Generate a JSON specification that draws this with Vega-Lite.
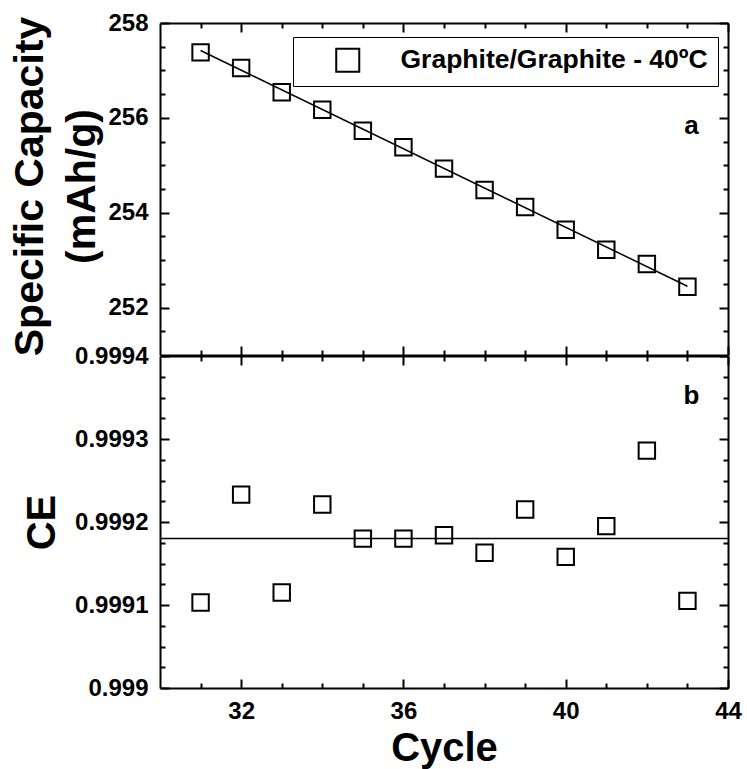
{
  "$schema": "https://vega.github.io/schema/vega-lite/v6.json",
  "background": "white",
  "padding": {"left": 9, "top": 11, "right": 5, "bottom": 2},
  "spacing": -13,
  "config": {
    "view": {"stroke": null},
    "font": "Liberation Sans",
    "axis": {
      "grid": false,
      "domainColor": "black",
      "domainWidth": 2,
      "tickColor": "black",
      "tickWidth": 2,
      "labelFont": "Liberation Sans",
      "labelFontSize": 24,
      "labelFontWeight": "bold",
      "labelColor": "black",
      "labelPadding": 21,
      "labelOverlap": false,
      "labelFlush": false,
      "labelBound": false,
      "titleFont": "Liberation Sans",
      "titleFontSize": 40,
      "titleFontWeight": "bold",
      "titleColor": "black"
    }
  },
  "resolve": {"scale": {"shape": "independent"}},
  "vconcat": [
    {
      "width": 568,
      "height": 332,
      "resolve": {"axis": {"x": "independent", "y": "independent"}},
      "layer": [
        {
          "data": {"values": [
            {"cycle": 31, "cap": 257.38, "series": "Graphite/Graphite - 40ºC"},
            {"cycle": 32, "cap": 257.05, "series": "Graphite/Graphite - 40ºC"},
            {"cycle": 33, "cap": 256.54, "series": "Graphite/Graphite - 40ºC"},
            {"cycle": 34, "cap": 256.17, "series": "Graphite/Graphite - 40ºC"},
            {"cycle": 35, "cap": 255.73, "series": "Graphite/Graphite - 40ºC"},
            {"cycle": 36, "cap": 255.38, "series": "Graphite/Graphite - 40ºC"},
            {"cycle": 37, "cap": 254.93, "series": "Graphite/Graphite - 40ºC"},
            {"cycle": 38, "cap": 254.48, "series": "Graphite/Graphite - 40ºC"},
            {"cycle": 39, "cap": 254.12, "series": "Graphite/Graphite - 40ºC"},
            {"cycle": 40, "cap": 253.64, "series": "Graphite/Graphite - 40ºC"},
            {"cycle": 41, "cap": 253.22, "series": "Graphite/Graphite - 40ºC"},
            {"cycle": 42, "cap": 252.92, "series": "Graphite/Graphite - 40ºC"},
            {"cycle": 43, "cap": 252.44, "series": "Graphite/Graphite - 40ºC"}
          ]},
          "mark": {"type": "point", "filled": false, "color": "black", "strokeWidth": 2, "size": 270, "opacity": 1},
          "encoding": {
            "x": {
              "field": "cycle", "type": "quantitative",
              "scale": {"domain": [30, 44], "nice": false, "zero": false},
              "axis": {
                "orient": "bottom", "title": null, "labels": false,
                "values": [31, 32, 33, 34, 35, 36, 37, 38, 39, 40, 41, 42, 43, 44],
                "tickSize": {"condition": {"test": "datum.value % 4 === 0", "value": -9}, "value": -5}
              }
            },
            "y": {
              "field": "cap", "type": "quantitative",
              "scale": {"domain": [251, 258], "nice": false, "zero": false},
              "axis": {
                "orient": "left",
                "title": ["Specific Capacity", "(mAh/g)"],
                "titleFontSize": 41,
                "titleLineHeight": 52,
                "titleBaseline": "bottom",
                "titleX": -109,
                "titleY": 163,
                "values": [251.5, 252, 252.5, 253, 253.5, 254, 254.5, 255, 255.5, 256, 256.5, 257, 257.5, 258],
                "labelExpr": "datum.value % 2 === 0 ? format(datum.value, 'd') : ''",
                "tickSize": {"condition": {"test": "datum.value % 2 === 0", "value": -9}, "value": -5}
              }
            },
            "shape": {
              "field": "series", "type": "nominal",
              "scale": {"range": ["square"]},
              "legend": {
                "orient": "none", "legendX": 133, "legendY": 14,
                "title": null, "padding": 10, "strokeColor": "black",
                "symbolOffset": 31.5, "labelOffset": 39.5,
                "labelFont": "Liberation Sans", "labelFontSize": 26.5, "labelFontWeight": "bold", "labelColor": "black",
                "labelLimit": 600,
                "symbolType": "square", "symbolSize": 530, "symbolStrokeWidth": 2,
                "symbolStrokeColor": "black", "symbolFillColor": "transparent"
              }
            }
          }
        },
        {
          "data": {"values": [
            {"cycle": 31, "fit": 257.42},
            {"cycle": 43, "fit": 252.45}
          ]},
          "mark": {"type": "line", "color": "black", "strokeWidth": 1.5},
          "encoding": {
            "x": {
              "field": "cycle", "type": "quantitative",
              "scale": {"domain": [30, 44], "nice": false, "zero": false},
              "axis": {
                "orient": "top", "title": null, "labels": false,
                "values": [31, 32, 33, 34, 35, 36, 37, 38, 39, 40, 41, 42, 43, 44],
                "tickSize": {"condition": {"test": "datum.value % 4 === 0", "value": -9}, "value": -5}
              }
            },
            "y": {
              "field": "fit", "type": "quantitative",
              "scale": {"domain": [251, 258], "nice": false, "zero": false},
              "axis": {
                "orient": "right", "title": null, "labels": false,
                "values": [251.5, 252, 252.5, 253, 253.5, 254, 254.5, 255, 255.5, 256, 256.5, 257, 257.5, 258],
                "tickSize": {"condition": {"test": "datum.value % 2 === 0", "value": -9}, "value": -5}
              }
            }
          }
        },
        {
          "data": {"values": [{"label": "a"}]},
          "mark": {"type": "text", "font": "Liberation Sans", "fontSize": 26, "fontWeight": "bold", "color": "black", "align": "center", "baseline": "middle"},
          "encoding": {
            "x": {"datum": 43.1, "type": "quantitative", "axis": null},
            "y": {"datum": 255.83, "type": "quantitative", "axis": null},
            "text": {"field": "label"}
          }
        }
      ]
    },
    {
      "width": 568,
      "height": 332,
      "resolve": {"axis": {"x": "independent", "y": "independent"}},
      "layer": [
        {
          "data": {"values": [
            {"cycle": 31, "ce": 0.999103},
            {"cycle": 32, "ce": 0.999233},
            {"cycle": 33, "ce": 0.999115},
            {"cycle": 34, "ce": 0.999221},
            {"cycle": 35, "ce": 0.99918},
            {"cycle": 36, "ce": 0.99918},
            {"cycle": 37, "ce": 0.999184},
            {"cycle": 38, "ce": 0.999163},
            {"cycle": 39, "ce": 0.999215},
            {"cycle": 40, "ce": 0.999158},
            {"cycle": 41, "ce": 0.999195},
            {"cycle": 42, "ce": 0.999286},
            {"cycle": 43, "ce": 0.999105}
          ]},
          "mark": {"type": "point", "shape": "square", "filled": false, "color": "black", "strokeWidth": 2, "size": 270, "opacity": 1},
          "encoding": {
            "x": {
              "field": "cycle", "type": "quantitative",
              "scale": {"domain": [30, 44], "nice": false, "zero": false},
              "axis": {
                "orient": "bottom",
                "title": "Cycle",
                "titleFontSize": 40,
                "titleBaseline": "alphabetic",
                "titleY": 72,
                "labelPadding": 20,
                "values": [31, 32, 33, 34, 35, 36, 37, 38, 39, 40, 41, 42, 43, 44],
                "labelExpr": "datum.value % 4 === 0 ? format(datum.value, 'd') : ''",
                "tickSize": {"condition": {"test": "datum.value % 4 === 0", "value": -9}, "value": -5}
              }
            },
            "y": {
              "field": "ce", "type": "quantitative",
              "scale": {"domain": [0.999, 0.9994], "nice": false, "zero": false},
              "axis": {
                "orient": "left",
                "title": "CE",
                "titleBaseline": "bottom",
                "titleX": -98,
                "values": [0.999, 0.999025, 0.99905, 0.999075, 0.9991, 0.999125, 0.99915, 0.999175, 0.9992, 0.999225, 0.99925, 0.999275, 0.9993, 0.999325, 0.99935, 0.999375, 0.9994],
                "labelExpr": "abs(datum.value * 10000 - round(datum.value * 10000)) < 0.001 ? format(datum.value, '.4~f') : ''",
                "tickSize": {"condition": {"test": "abs(datum.value * 10000 - round(datum.value * 10000)) < 0.001", "value": -9}, "value": -5}
              }
            }
          }
        },
        {
          "data": {"values": [{"mean": 0.99918}]},
          "mark": {"type": "rule", "color": "black", "strokeWidth": 1.5},
          "encoding": {
            "y": {
              "field": "mean", "type": "quantitative",
              "scale": {"domain": [0.999, 0.9994], "nice": false, "zero": false},
              "axis": null
            }
          }
        },
        {
          "data": {"values": [{"label": "b"}]},
          "mark": {"type": "text", "font": "Liberation Sans", "fontSize": 26, "fontWeight": "bold", "color": "black", "align": "center", "baseline": "middle"},
          "encoding": {
            "x": {
              "datum": 43.1, "type": "quantitative",
              "axis": {
                "orient": "top", "title": null, "labels": false,
                "values": [31, 32, 33, 34, 35, 36, 37, 38, 39, 40, 41, 42, 43, 44],
                "tickSize": {"condition": {"test": "datum.value % 4 === 0", "value": -9}, "value": -5}
              }
            },
            "y": {
              "datum": 0.999352, "type": "quantitative",
              "axis": {
                "orient": "right", "title": null, "labels": false,
                "values": [0.999, 0.999025, 0.99905, 0.999075, 0.9991, 0.999125, 0.99915, 0.999175, 0.9992, 0.999225, 0.99925, 0.999275, 0.9993, 0.999325, 0.99935, 0.999375, 0.9994],
                "tickSize": {"condition": {"test": "abs(datum.value * 10000 - round(datum.value * 10000)) < 0.001", "value": -9}, "value": -5}
              }
            },
            "text": {"field": "label"}
          }
        }
      ]
    }
  ]
}
